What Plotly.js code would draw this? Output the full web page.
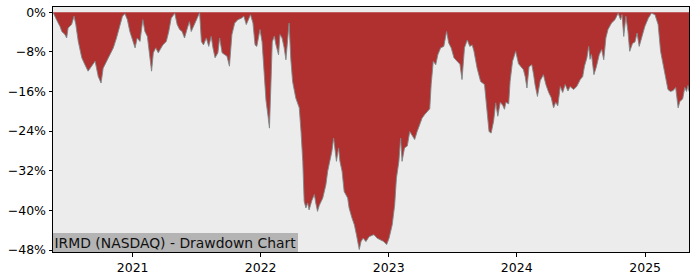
<!DOCTYPE html>
<html>
<head>
<meta charset="utf-8">
<script src="https://cdn.plot.ly/plotly-3.0.1.min.js"></script>
<style>
  html, body { margin: 0; padding: 0; background: #ffffff; }
  #chart { width: 700px; height: 280px; }
</style>
</head>
<body>
<div id="chart"></div>
<script>
// Drawdown series (date, drawdown in %)
const dates = [
  "2020-05-19","2020-05-22","2020-05-29","2020-06-08","2020-06-13","2020-06-22","2020-06-27","2020-07-01",
  "2020-07-11","2020-07-18","2020-07-23","2020-07-30","2020-08-09","2020-08-18","2020-08-27","2020-09-06",
  "2020-09-16","2020-09-25","2020-10-03","2020-10-09","2020-10-19","2020-10-28","2020-11-07","2020-11-16",
  "2020-11-26","2020-12-03","2020-12-10","2020-12-17","2020-12-24","2021-01-01","2021-01-08","2021-01-14",
  "2021-01-22","2021-01-30","2021-02-05","2021-02-12","2021-02-19","2021-02-24","2021-03-01","2021-03-08",
  "2021-03-15","2021-03-28","2021-04-07","2021-04-14","2021-04-21","2021-05-01","2021-05-08","2021-05-15",
  "2021-05-22","2021-05-29","2021-06-06","2021-06-12","2021-06-17","2021-06-27","2021-07-04","2021-07-11",
  "2021-07-16","2021-07-22","2021-07-30","2021-08-06","2021-08-13","2021-08-18","2021-08-24","2021-09-01",
  "2021-09-06","2021-09-13","2021-09-20","2021-09-27","2021-10-04","2021-10-11","2021-10-19","2021-10-28",
  "2021-11-07","2021-11-14","2021-11-21","2021-11-28","2021-12-03","2021-12-10","2021-12-16","2021-12-21",
  "2021-12-30","2022-01-05","2022-01-10","2022-01-16","2022-01-22","2022-01-26","2022-01-30","2022-02-03",
  "2022-02-09","2022-02-13","2022-02-21","2022-02-25","2022-03-03","2022-03-09","2022-03-14","2022-03-19",
  "2022-03-23","2022-03-28","2022-04-02","2022-04-11","2022-04-21","2022-04-26","2022-05-01","2022-05-05",
  "2022-05-10","2022-05-15","2022-05-19","2022-05-27","2022-06-03","2022-06-07","2022-06-12","2022-06-17",
  "2022-06-27","2022-07-06","2022-07-11","2022-07-17","2022-07-23","2022-07-28","2022-08-01","2022-08-05",
  "2022-08-11","2022-08-15","2022-08-21","2022-08-27","2022-09-06","2022-09-10","2022-09-18","2022-09-25",
  "2022-10-01","2022-10-09","2022-10-14","2022-10-20","2022-10-28","2022-11-06","2022-11-16","2022-11-20",
  "2022-11-29","2022-12-09","2022-12-18","2022-12-26","2023-01-02","2023-01-11","2023-01-18","2023-01-23",
  "2023-01-30","2023-02-04","2023-02-08","2023-02-15","2023-02-23","2023-03-02","2023-03-09","2023-03-16",
  "2023-03-23","2023-03-31","2023-04-06","2023-04-13","2023-04-21","2023-04-28","2023-05-02","2023-05-08",
  "2023-05-15","2023-05-21","2023-05-29","2023-06-07","2023-06-15","2023-06-21","2023-06-28","2023-07-06",
  "2023-07-15","2023-07-23","2023-07-29","2023-08-05","2023-08-13","2023-08-20","2023-08-27","2023-09-01",
  "2023-09-10","2023-09-20","2023-10-01","2023-10-08","2023-10-14","2023-10-20","2023-10-27","2023-11-02",
  "2023-11-08","2023-11-15","2023-11-22","2023-11-27","2023-12-01","2023-12-09","2023-12-13","2023-12-20",
  "2023-12-29","2024-01-06","2024-01-14","2024-01-20","2024-01-25","2024-01-30","2024-02-05","2024-02-13",
  "2024-02-18","2024-02-22","2024-02-29","2024-03-08","2024-03-17","2024-03-24","2024-04-01","2024-04-08",
  "2024-04-15","2024-04-21","2024-04-27","2024-05-04","2024-05-11","2024-05-18","2024-05-26","2024-06-01",
  "2024-06-11","2024-06-20","2024-06-30","2024-07-07","2024-07-12","2024-07-19","2024-07-24","2024-07-28",
  "2024-08-01","2024-08-08","2024-08-15","2024-08-23","2024-08-30","2024-09-05","2024-09-11","2024-09-17",
  "2024-09-27","2024-10-07","2024-10-16","2024-10-23","2024-10-27","2024-11-01","2024-11-07","2024-11-13",
  "2024-11-18","2024-11-26","2024-12-03","2024-12-09","2024-12-15","2024-12-22","2024-12-31","2025-01-10",
  "2025-01-19","2025-01-29","2025-02-07","2025-02-14","2025-02-21","2025-03-01","2025-03-07","2025-03-14",
  "2025-03-22","2025-03-29","2025-04-05","2025-04-10","2025-04-18","2025-04-24","2025-04-29","2025-05-03",
  "2025-05-06"
];
const drawdown = [
  0,-0.5,-1.5,-2.9,-3.9,-4.5,-5.2,-3.2,
  -2.5,-0.8,-2.5,-5.9,-9.2,-10.6,-11.9,-10.9,
  -9.9,-13.0,-14.3,-11.3,-9.9,-8.6,-7.2,-5.2,
  -2.9,-0.8,-0.3,-1.5,-3.9,-5.9,-7.2,-5.2,
  -5.9,-1.5,-3.9,-4.9,-8.6,-11.9,-8.2,-7.2,
  -8.2,-6.6,-5.9,-3.9,-1.2,-0.2,-2.5,-3.5,
  -3.9,-5.2,-3.2,-1.9,-3.9,-2.5,-1.2,-0.1,
  -5.9,-6.6,-5.2,-6.9,-4.9,-7.2,-9.2,-8.2,
  -5.2,-8.2,-8.6,-8.9,-10.9,-4.5,-2.2,-1.5,
  -1.2,-0.8,-2.5,-1.2,-0.5,-2.2,-6.6,-6.9,
  -3.5,-6.0,-12.0,-17.7,-21.0,-23.4,-15.0,-6.0,
  -4.8,-6.4,-8.6,-4.5,-5.2,-7.2,-9.6,-4.5,
  -2.2,-9.6,-14.0,-17.3,-19.3,-24.1,-30.1,-38.2,
  -39.5,-38.5,-39.9,-38.0,-36.8,-38.5,-40.2,-39.0,
  -37.5,-34.8,-32.1,-30.1,-28.1,-25.4,-28.1,-30.1,
  -27.4,-30.1,-32.1,-36.2,-37.5,-39.5,-41.5,-42.9,
  -44.9,-47.9,-46.3,-45.6,-46.3,-45.3,-45.0,-44.9,
  -45.6,-45.9,-46.3,-46.9,-45.6,-42.9,-38.9,-33.5,
  -30.1,-25.4,-30.1,-27.4,-27.0,-24.1,-25.0,-25.7,
  -24.1,-22.7,-21.4,-20.7,-20.0,-19.5,-14.6,-9.9,
  -10.6,-8.6,-7.2,-6.9,-3.9,-6.2,-7.2,-9.2,
  -9.9,-10.5,-13.6,-7.2,-5.6,-6.9,-6.6,-7.9,
  -11.3,-14.0,-14.6,-20.0,-24.1,-24.4,-22.0,-18.3,
  -21.0,-18.2,-18.8,-19.6,-18.2,-18.5,-14.0,-9.9,
  -7.9,-10.4,-11.0,-11.6,-13.0,-15.3,-11.0,-10.6,
  -12.6,-14.6,-17.0,-13.8,-12.6,-14.6,-16.2,-17.2,
  -19.3,-18.2,-18.9,-15.0,-16.2,-14.6,-15.9,-15.0,
  -15.6,-15.0,-13.6,-13.0,-10.9,-9.2,-6.9,-9.5,
  -8.5,-12.6,-11.0,-8.6,-7.5,-9.6,-5.2,-3.5,
  -2.2,-1.5,-0.2,-1.5,-0.5,-4.9,-0.8,-3.9,
  -7.9,-6.3,-6.0,-4.2,-6.9,-5.2,-2.9,-1.2,
  -0.2,-0.5,-2.5,-7.9,-10.6,-13.3,-15.6,-16.0,
  -15.8,-15.2,-19.3,-18.0,-17.5,-15.2,-16.0,-14.8,
  -16.0
];

const yTickVals = [0, -8, -16, -24, -32, -40, -48];
const yTickText = ["0%", "\u22128%", "\u221216%", "\u221224%", "\u221232%", "\u221240%", "\u221248%"];
const xTickVals = ["2021-01-01", "2022-01-01", "2023-01-01", "2024-01-01", "2025-01-01"];
const xTickText = ["2021", "2022", "2023", "2024", "2025"];
const chartLabel = "IRMD (NASDAQ) - Drawdown Chart";

const trace = {
  x: dates,
  y: drawdown,
  type: "scatter",
  mode: "lines",
  fill: "tozeroy",
  fillcolor: "#b03030",
  line: { color: "rgba(125,135,135,0.9)", width: 1, shape: "linear" },
  hoverinfo: "skip"
};

const layout = {
  width: 700,
  height: 280,
  margin: { l: 53, r: 11, t: 7, b: 28, pad: 0 },
  paper_bgcolor: "#ffffff",
  plot_bgcolor: "#ececec",
  showlegend: false,
  font: { family: "DejaVu Sans, sans-serif", size: 12.5, color: "#000000" },
  xaxis: {
    type: "date",
    range: [dates[0], dates[dates.length - 1]],
    tickmode: "array",
    tickvals: xTickVals,
    ticktext: xTickText,
    ticks: "outside",
    ticklen: 3.5,
    tickwidth: 1,
    tickcolor: "#000000",
    showgrid: false,
    zeroline: false,
    showline: true,
    linecolor: "#000000",
    linewidth: 1,
    mirror: true,
    tickfont: { family: "DejaVu Sans, sans-serif", size: 12.5, color: "#000000" }
  },
  yaxis: {
    range: [-48.4, 1.05],
    tickmode: "array",
    tickvals: yTickVals,
    ticktext: yTickText,
    ticks: "outside",
    ticklen: 3.5,
    tickwidth: 1,
    tickcolor: "#000000",
    showgrid: false,
    zeroline: false,
    showline: true,
    linecolor: "#000000",
    linewidth: 1,
    mirror: true,
    tickfont: { family: "DejaVu Sans, sans-serif", size: 12.5, color: "#000000" }
  },
  annotations: [{
    text: chartLabel,
    xref: "paper", yref: "paper",
    x: 0, y: 0,
    xanchor: "left", yanchor: "bottom",
    showarrow: false,
    bgcolor: "#b4b4b4",
    borderpad: 1.5,
    borderwidth: 0,
    font: { family: "DejaVu Sans, sans-serif", size: 13.9, color: "#111111" }
  }]
};

Plotly.newPlot("chart", [trace], layout, { staticPlot: true, displayModeBar: false });
</script>
</body>
</html>
